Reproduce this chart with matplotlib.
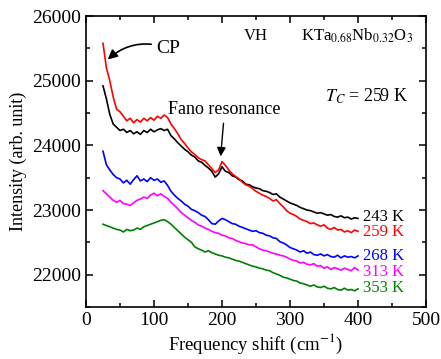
import numpy as np
import matplotlib
matplotlib.use("Agg")
import matplotlib.pyplot as plt
from matplotlib.ticker import MultipleLocator

plt.rcParams['font.family'] = ['Liberation Serif', 'DejaVu Serif']
plt.rcParams['mathtext.fontset'] = 'stix'

# Raman shift grid (cm-1)
shift = np.arange(25, 401, 5)

i243 = [24920, 24720, 24480, 24330, 24280, 24230, 24250, 24200, 24230, 24180,
        24210, 24170, 24230, 24200, 24250, 24210, 24240, 24260, 24230, 24250,
        24150, 24100, 24040, 23990, 23940, 23900, 23850, 23820, 23760, 23740,
        23690, 23650, 23600, 23510, 23560, 23670, 23600, 23580, 23530, 23510,
        23470, 23450, 23400, 23390, 23360, 23340, 23330, 23300, 23290, 23270,
        23240, 23250, 23200, 23170, 23140, 23110, 23090, 23070, 23040, 23020,
        23000, 22990, 22970, 22950, 22960, 22940, 22920, 22930, 22900, 22890,
        22910, 22880, 22890, 22860, 22880, 22870]

i259 = [25580, 25200, 25000, 24750, 24560, 24520, 24450, 24380, 24420, 24350,
        24400, 24360, 24420, 24380, 24430, 24390, 24450, 24420, 24470, 24430,
        24330, 24260, 24180, 24090, 24030, 23960, 23900, 23860, 23810, 23780,
        23760, 23700, 23640, 23580, 23620, 23750, 23690, 23620, 23560, 23520,
        23480, 23430, 23390, 23370, 23330, 23290, 23260, 23230, 23210, 23180,
        23140, 23160, 23100, 23050, 22990, 22950, 22930, 22900, 22860, 22840,
        22820, 22790, 22800, 22770, 22750, 22770, 22720, 22700, 22730, 22690,
        22700, 22660, 22680, 22650, 22690, 22670]

i268 = [23910, 23700, 23620, 23550, 23500, 23480, 23420, 23460, 23400, 23470,
        23530, 23450, 23480, 23440, 23500, 23460, 23480, 23430, 23450, 23380,
        23290, 23230, 23180, 23140, 23090, 23060, 23010, 22990, 22960, 22920,
        22900, 22850, 22790, 22780, 22830, 22870, 22850, 22820, 22790, 22780,
        22750, 22730, 22710, 22690, 22670, 22680, 22650, 22640, 22610, 22600,
        22570, 22560, 22510, 22490, 22460, 22420, 22400, 22380, 22350, 22370,
        22330, 22350, 22310, 22300, 22320, 22290, 22310, 22280, 22270, 22300,
        22260, 22290, 22270, 22280, 22260, 22290]

i313 = [23300, 23250, 23200, 23150, 23120, 23150, 23100, 23090, 23070, 23110,
        23150, 23170, 23200, 23180, 23230, 23260, 23220, 23250, 23210, 23180,
        23120, 23070, 23020, 22960, 22920, 22880, 22840, 22810, 22770, 22750,
        22720, 22700, 22670, 22650, 22640, 22610, 22600, 22570, 22560, 22530,
        22510, 22490, 22480, 22460, 22460, 22430, 22400, 22380, 22370, 22350,
        22330, 22320, 22300, 22290, 22270, 22240, 22220, 22210, 22180, 22190,
        22160, 22150, 22170, 22130, 22140, 22100, 22120, 22080, 22110, 22090,
        22070, 22100, 22080, 22060, 22110, 22070]

i353 = [22780, 22760, 22740, 22720, 22700, 22690, 22660, 22700, 22680, 22690,
        22720, 22700, 22740, 22760, 22780, 22800, 22820, 22840, 22850, 22820,
        22780, 22730, 22680, 22630, 22580, 22540, 22500, 22430, 22400, 22380,
        22350, 22370, 22340, 22320, 22300, 22290, 22270, 22260, 22240, 22220,
        22210, 22190, 22170, 22150, 22130, 22120, 22100, 22090, 22070, 22060,
        22030, 22010, 21990, 21960, 21950, 21930, 21910, 21900, 21870, 21860,
        21840, 21820, 21840, 21810, 21800, 21820, 21790, 21780, 21800, 21770,
        21760, 21790, 21760, 21770, 21750, 21780]

series = [i243, i259, i268, i313, i353]
labels = ['243 K', '259 K', '268 K', '313 K', '353 K']
colors = ['black', 'red', 'blue', 'magenta', 'green']
label_y = [22895, 22663, 22290, 22045, 21790]

fig = plt.figure(figsize=(4.41, 3.59), dpi=100)
ax = fig.add_axes([0.195, 0.145, 0.771, 0.81])

for vals, lab, col, ly in zip(series, labels, colors, label_y):
    ax.plot(shift, vals, color=col, lw=1.2)
    ax.text(407, ly, lab, color=col, fontsize=12, ha='left', va='center')

ax.set_xlim(0, 500)
ax.set_ylim(21500, 26000)
ax.xaxis.set_major_locator(MultipleLocator(100))
ax.xaxis.set_minor_locator(MultipleLocator(50))
ax.yaxis.set_major_locator(MultipleLocator(1000))
ax.yaxis.set_minor_locator(MultipleLocator(500))
ax.tick_params(which='both', direction='in', top=True, right=True, width=1.1)
ax.tick_params(which='major', length=5, labelsize=14)
ax.tick_params(which='minor', length=3)
for s in ax.spines.values():
    s.set_linewidth(1.2)

ax.set_xlabel('Frequency shift (cm$^{-1}$)', fontsize=13.5, labelpad=2)
ax.set_ylabel('Intensity (arb. unit)', fontsize=13, labelpad=4)

ax.text(250, 25690, 'VH', fontsize=12, ha='center', va='center')
ax.text(398, 25690, r'KTa$_{0.68}$Nb$_{0.32}$O$_3$', fontsize=12, ha='center', va='center')
ax.text(351, 24760, r'$T_C$ = 259 K', fontsize=13, ha='left', va='center')

ax.annotate('CP', xy=(32, 25330), xytext=(104, 25500), fontsize=14,
            ha='left', va='center',
            arrowprops=dict(arrowstyle='-|>', color='black', lw=1.2,
                            connectionstyle='arc3,rad=0.3', shrinkB=0))
ax.annotate('Fano resonance', xy=(198, 23830), xytext=(204, 24560), fontsize=13,
            ha='center', va='center',
            arrowprops=dict(arrowstyle='-|>', color='black', lw=1.0, shrinkB=0))

fig.savefig('out.png', dpi=100)
